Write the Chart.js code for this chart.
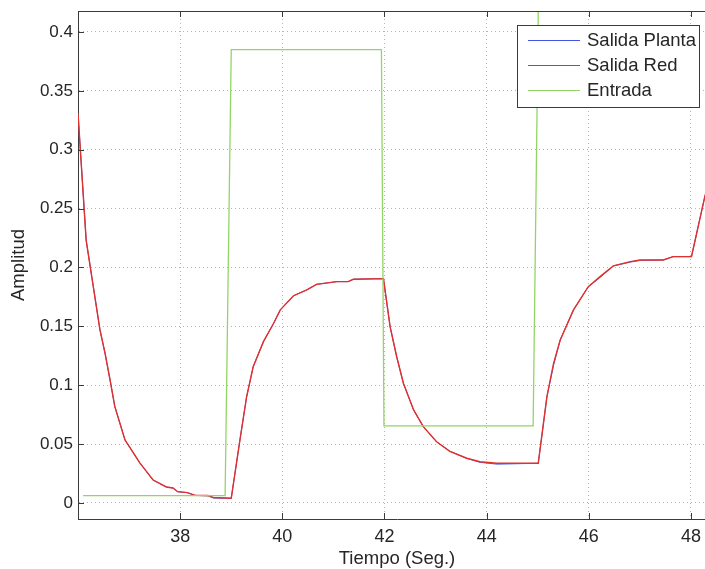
<!DOCTYPE html>
<html>
<head>
<meta charset="utf-8">
<script src="https://cdn.jsdelivr.net/npm/chart.js@4.4.1/dist/chart.umd.min.js"></script>
<style>
  html, body { margin: 0; padding: 0; background: #fff; overflow: hidden; }
  #wrap { width: 705px; height: 569px; overflow: hidden; }
</style>
</head>
<body>
<div id="wrap"><canvas id="grafica" width="730" height="569"></canvas></div>
<script>
// tiempos y respuestas (salida de la planta y de la red neuronal)
var tiempo = [36.0, 36.16, 36.43, 36.53, 36.63, 36.72, 36.92, 37.21, 37.47, 37.73, 37.86, 37.95, 38.14, 38.29, 38.55, 38.65, 39.0,
              39.17, 39.30, 39.43, 39.63, 39.83, 39.96, 40.22, 40.48, 40.67, 41.07, 41.29, 41.39, 41.98,
              42.11, 42.24, 42.37, 42.57, 42.76, 43.02, 43.28, 43.61, 43.87, 44.2, 45.01,
              45.18, 45.31, 45.44, 45.70, 45.99, 46.22, 46.48, 46.81, 47.0, 47.46, 47.65, 48.01, 48.27, 48.5];
var salidaRed = [0.331, 0.223, 0.147, 0.127, 0.104, 0.082, 0.0535, 0.034, 0.0195, 0.0136, 0.0127, 0.0096, 0.0088, 0.0065, 0.0063, 0.0047, 0.0040,
                 0.0535, 0.090, 0.1158, 0.137, 0.1526, 0.164, 0.176, 0.181, 0.1857, 0.188, 0.188, 0.190, 0.1905,
                 0.1497, 0.124, 0.1017, 0.079, 0.0648, 0.052, 0.0439, 0.038, 0.035, 0.0337, 0.0337,
                 0.0903, 0.1186, 0.1384, 0.164, 0.1837, 0.1922, 0.2013, 0.205, 0.2064, 0.2064, 0.2092, 0.2092, 0.260, 0.295];
var salidaPlanta = [0.331, 0.223, 0.147, 0.127, 0.104, 0.082, 0.0535, 0.034, 0.0195, 0.0136, 0.0127, 0.0096, 0.0088, 0.0065, 0.0060, 0.0042, 0.0040,
                    0.0535, 0.090, 0.1158, 0.137, 0.1526, 0.164, 0.176, 0.181, 0.1857, 0.188, 0.188, 0.190, 0.1905,
                    0.1497, 0.124, 0.1017, 0.079, 0.0648, 0.052, 0.0439, 0.038, 0.0345, 0.0330, 0.0337,
                    0.0903, 0.1170, 0.1384, 0.164, 0.1837, 0.1915, 0.2013, 0.2045, 0.2060, 0.2064, 0.2092, 0.2092, 0.260, 0.295];

// señal de entrada (escalones)
var tEntrada = [36.1, 38.88, 39.0, 41.94, 41.99, 44.91, 45.02, 48.5];
var entrada = [0.0062, 0.0062, 0.385, 0.385, 0.0654, 0.0654, 0.45, 0.45];

var ticksX = [38, 40, 42, 44, 46, 48];
var ticksY = [0, 0.05, 0.1, 0.15, 0.2, 0.25, 0.3, 0.35, 0.4];

function puntos(xs, ys) {
  return xs.map(function (x, i) { return { x: x, y: ys[i] }; });
}

var fuente = "'Liberation Sans', Arial, Helvetica, sans-serif";
var colorTexto = '#262626';
var colorGrid = 'rgba(140,140,140,0.65)';

// marco superior, marcas interiores y leyenda estilo MATLAB
var marcoMatlab = {
  id: 'marcoMatlab',
  afterDraw: function (chart) {
    var ctx = chart.ctx, a = chart.chartArea;
    var sx = chart.scales.x, sy = chart.scales.y;
    ctx.save();
    ctx.strokeStyle = '#3a3a3a';
    ctx.lineWidth = 1;
    ctx.beginPath();
    ctx.moveTo(a.left, a.top + 0.5);
    ctx.lineTo(a.right, a.top + 0.5);
    ticksX.forEach(function (v) {
      var px = Math.round(sx.getPixelForValue(v)) + 0.5;
      ctx.moveTo(px, a.bottom); ctx.lineTo(px, a.bottom - 6);
      ctx.moveTo(px, a.top); ctx.lineTo(px, a.top + 6);
    });
    ticksY.forEach(function (v) {
      var py = Math.round(sy.getPixelForValue(v)) + 0.5;
      ctx.moveTo(a.left, py); ctx.lineTo(a.left + 6, py);
    });
    ctx.stroke();

    // leyenda
    var bx = 517, by = 25, bw = 182, bh = 82;
    ctx.fillStyle = '#fff';
    ctx.fillRect(bx, by, bw, bh);
    ctx.strokeRect(bx + 0.5, by + 0.5, bw, bh);
    ctx.font = '18.5px ' + fuente;
    ctx.textBaseline = 'middle';
    ctx.textAlign = 'left';
    chart.data.datasets.forEach(function (ds, i) {
      var y = 40 + i * 25 + 0.5;
      ctx.strokeStyle = ds.borderColor;
      ctx.lineWidth = 1;
      ctx.beginPath();
      ctx.moveTo(528, y); ctx.lineTo(580, y);
      ctx.stroke();
      ctx.fillStyle = colorTexto;
      ctx.fillText(ds.label, 587, y);
    });
    ctx.restore();
  }
};

new Chart(document.getElementById('grafica'), {
  type: 'line',
  data: {
    datasets: [
      { label: 'Salida Planta', data: puntos(tiempo, salidaPlanta), borderColor: '#4455e6', borderWidth: 1, pointRadius: 0, order: 2 },
      { label: 'Salida Red', data: puntos(tiempo, salidaRed), borderColor: '#e2302a', borderWidth: 1.4, pointRadius: 0, order: 1 },
      { label: 'Entrada', data: puntos(tEntrada, entrada), borderColor: '#94d466', borderWidth: 1.3, pointRadius: 0, order: 0 }
    ]
  },
  options: {
    responsive: false,
    animation: false,
    events: [],
    layout: { padding: { top: 11, right: 14, left: 0, bottom: 0 } },
    plugins: { legend: { display: false }, tooltip: { enabled: false } },
    scales: {
      x: {
        type: 'linear',
        min: 36.0,
        max: 48.49,
        afterBuildTicks: function (s) { s.ticks = ticksX.map(function (v) { return { value: v }; }); },
        afterFit: function (s) { s.height = 50; s.paddingLeft = 0; s.paddingRight = 0; },
        ticks: { padding: 7, color: colorTexto, font: { family: fuente, size: 18 }, maxRotation: 0, autoSkip: false,
                 callback: function (v) { return String(v); } },
        grid: { color: colorGrid, drawTicks: false, lineWidth: 1 },
        border: { color: '#3a3a3a', width: 1, dash: [1, 3] },
        title: { display: true, text: 'Tiempo (Seg.)', color: colorTexto, font: { family: fuente, size: 18.5, lineHeight: 1 }, padding: { top: 0, bottom: 0.5 } }
      },
      y: {
        min: -0.0136,
        max: 0.4178,
        afterBuildTicks: function (s) { s.ticks = ticksY.map(function (v) { return { value: v }; }); },
        afterFit: function (s) { s.width = 78; s.paddingTop = 0; s.paddingBottom = 0; },
        ticks: { padding: 5, color: colorTexto, font: { family: fuente, size: 17 }, autoSkip: false,
                 callback: function (v) { return String(Math.round(v * 100) / 100); } },
        grid: { color: colorGrid, drawTicks: false, lineWidth: 1 },
        border: { color: '#3a3a3a', width: 1, dash: [1, 3] },
        title: { display: true, text: 'Amplitud', color: colorTexto, font: { family: fuente, size: 18.5, lineHeight: 1 }, padding: { top: 10, bottom: 0 } }
      }
    }
  },
  plugins: [marcoMatlab]
});
</script>
</body>
</html>
